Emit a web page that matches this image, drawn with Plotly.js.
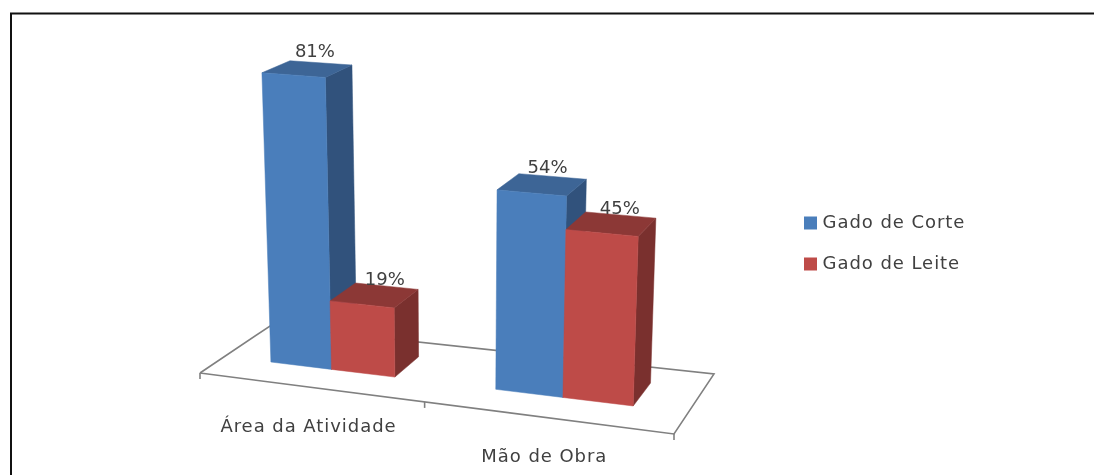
<!DOCTYPE html>
<html>
<head>
<meta charset="utf-8">
<script src="https://cdn.plot.ly/plotly-3.0.1.min.js"></script>
<style>html,body{margin:0;padding:0;background:#fff;overflow:hidden}#chart{width:1094px;height:475px;filter:blur(0.6px)}</style>
</head>
<body>
<div id="chart"></div>
<script>
const categories = ["Área da Atividade", "Mão de Obra"];
const seriesNames = ["Gado de Corte", "Gado de Leite"];
const corteValues = [81, 54];
const leiteValues = [19, 45];
const frontColors = ["#4A7EBB", "#BE4B48"];
const topColors = ["#3D6596", "#8C3836"];
const sideColors = ["#31527C", "#7A302E"];
const labelNudgeX = [-6, -2, -5, -1];
const labelNudgeY = [-10, -6, -8, -6];
const groupBarWidth = [0.145, 0.137];

const FL=[200,373], FR=[674,434], BR=[714,374], BL=[270,326];
function makeFloor(){
  const dx1=FR[0]-BR[0], dx2=BL[0]-BR[0], sx=FL[0]-FR[0]+BR[0]-BL[0];
  const dy1=FR[1]-BR[1], dy2=BL[1]-BR[1], sy=FL[1]-FR[1]+BR[1]-BL[1];
  const den=dx1*dy2-dx2*dy1;
  const g=(sx*dy2-dx2*sy)/den, h=(dx1*sy-sx*dy1)/den;
  const a=FR[0]-FL[0]+g*FR[0], b=BL[0]-FL[0]+h*BL[0];
  const d=FR[1]-FL[1]+g*FR[1], e=BL[1]-FL[1]+h*BL[1];
  return (u,v)=>{const w=g*u+h*v+1;return [(a*u+b*v+FL[0])/w,(d*u+e*v+FL[1])/w];};
}
const floor=makeFloor();
const VP=[457,6364];
function project(u,v,val){
  const B=floor(u,v);
  const t=val*(5.95e-4+8.5e-7*(B[1]-362));
  return [B[0]+(B[0]-VP[0])*t, B[1]+(B[1]-VP[1])*t];
}
const vFront=0.335, vBack=0.73, catOffset=0.01;
const traces=[];
function poly(pts,color){
  const xs=pts.map(p=>p[0]).concat(pts[0][0]);
  const ys=pts.map(p=>p[1]).concat(pts[0][1]);
  traces.push({x:xs,y:ys,mode:"lines",fill:"toself",fillcolor:color,line:{color:color,width:0.5},hoverinfo:"skip",showlegend:false,type:"scatter"});
}
// floor
const floorPts=[floor(0,0),floor(1,0),floor(1,1),floor(0,1),floor(0,0)];
traces.push({x:floorPts.map(p=>p[0]),y:floorPts.map(p=>p[1]),mode:"lines",line:{color:"#808080",width:1.6},hoverinfo:"skip",showlegend:false,type:"scatter"});
const tickU=[0,0.515,1], tx=[], ty=[];
tickU.forEach(u=>{const p=floor(u,0);tx.push(p[0],p[0],null);ty.push(p[1],p[1]+6,null);});
traces.push({x:tx,y:ty,mode:"lines",line:{color:"#808080",width:1.6},hoverinfo:"skip",showlegend:false,type:"scatter"});

const labelX=[],labelY=[],labelT=[];
categories.forEach((cat,i)=>{
  const center=(i+0.5)/categories.length+catOffset, barWidth=groupBarWidth[i];
  [corteValues[i],leiteValues[i]].forEach((val,s)=>{
    const u0=center+(s-1)*barWidth, u1=u0+barWidth;
    poly([project(u1,vFront,0),project(u1,vBack,0),project(u1,vBack,val),project(u1,vFront,val)],sideColors[s]);
    poly([project(u0,vFront,val),project(u1,vFront,val),project(u1,vBack,val),project(u0,vBack,val)],topColors[s]);
    poly([project(u0,vFront,0),project(u1,vFront,0),project(u1,vFront,val),project(u0,vFront,val)],frontColors[s]);
    const a=project(u0,vBack,val), b=project(u1,vBack,val), k=labelT.length;
    labelX.push((a[0]+b[0])/2+labelNudgeX[k]); labelY.push((a[1]+b[1])/2+labelNudgeY[k]); labelT.push(val+"%");
  });
});
const font={family:"DejaVu Sans, sans-serif",size:18,color:"#404040"};
traces.push({x:labelX,y:labelY,text:labelT,mode:"text",textposition:"middle center",textfont:font,hoverinfo:"skip",showlegend:false,type:"scatter"});
// category labels
const catX=[],catY=[];
categories.forEach((c,i)=>{const p=floor((i+0.5)/categories.length,0);catX.push(p[0]+4);catY.push(p[1]+41);});
traces.push({x:catX,y:catY,text:categories,mode:"text",textposition:"middle center",textfont:font,hoverinfo:"skip",showlegend:false,type:"scatter"});
// legend
const legendX=810.5, legendY=[223,264];
seriesNames.forEach((n,s)=>{
  traces.push({name:n,x:[legendX],y:[legendY[s]],mode:"markers",marker:{symbol:"square",size:13,color:frontColors[s]},hoverinfo:"skip",showlegend:false,type:"scatter"});
  traces.push({name:n,x:[legendX+12],y:[legendY[s]],text:[n],mode:"text",textposition:"middle right",textfont:font,hoverinfo:"skip",showlegend:false,type:"scatter"});
});

const layout={
  width:1094,height:475,margin:{l:0,r:0,t:0,b:0},showlegend:false,
  paper_bgcolor:"#fff",plot_bgcolor:"#fff",
  xaxis:{range:[0,1094],visible:false,fixedrange:true},
  yaxis:{range:[475,0],visible:false,fixedrange:true},
  shapes:[{type:"rect",xref:"x",yref:"y",x0:11,y0:13.5,x1:1110,y1:490,line:{color:"#111",width:2},layer:"below"}]
};
Plotly.newPlot("chart",traces,layout,{displayModeBar:false,staticPlot:true}).then(()=>{
  document.querySelectorAll("#chart .textpoint text").forEach(t=>{
    if(!t.textContent.includes("%")) t.style.letterSpacing="0.95px";
  });
});
</script>
</body>
</html>
